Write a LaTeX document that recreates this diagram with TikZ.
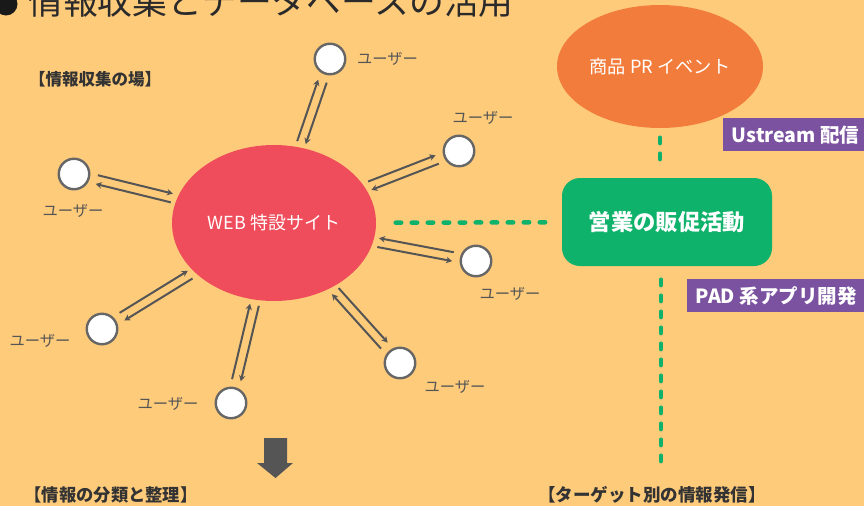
\documentclass[tikz,border=0pt]{standalone}
\usepackage{fontspec}
\setmainfont{Noto Sans CJK JP}
\usetikzlibrary{shapes.geometric,arrows.meta,calc}
\definecolor{bg}{HTML}{FECB7B}
\definecolor{webred}{HTML}{EF4D5B}
\definecolor{prorange}{HTML}{F27C3B}
\definecolor{salesgreen}{HTML}{0EB26A}
\definecolor{tagpurple}{HTML}{7B52A0}
\definecolor{linkgray}{HTML}{555555}
\definecolor{usergray}{HTML}{666666}
\definecolor{labelgray}{HTML}{555555}
\definecolor{headgray}{HTML}{333333}
\definecolor{titlegray}{HTML}{2A2A2A}
\tikzset{
  user/.style={circle,draw=usergray,line width=2.4pt,fill=white,minimum size=30.5pt,inner sep=0pt},
  ulabel/.style={text=labelgray,font=\fontsize{15.3}{18}\selectfont,inner sep=0pt},
  lnk/.style={draw=linkgray,line width=2pt},
  tiphead/.style={-{Stealth[length=6pt,width=6.5pt]}},
  dots/.style={draw=salesgreen,line width=4.5pt,line cap=round,dash pattern=on 5.5pt off 10.5pt},
  heading/.style={text=headgray,font=\fontsize{16.5}{19}\selectfont\bfseries,inner sep=0pt},
  tag/.style={fill=tagpurple,text=white,font=\fontsize{19.5}{22}\selectfont\bfseries,inner sep=0pt,anchor=north west,minimum height=33pt}
}
\newcommand\userlink[3]{%
  \path let \p1=($(web.center)-(#1.center)$), \n1={atan2(\y1,\x1)} in \pgfextra{\xdef\ulangle{\n1}};
  \draw[lnk,tiphead,shorten <=5pt,shorten >=7pt,transform canvas={shift={({\ulangle#2}:4.5pt)}}] (web) -- (#1);
  \draw[lnk,tiphead,shorten <=7pt,shorten >=5pt,transform canvas={shift={({\ulangle#3}:4.5pt)}}] (#1) -- (web);
}
\begin{document}
\begin{tikzpicture}[x=1pt,y=-1pt]
\useasboundingbox (0,0) rectangle (864,506);
\fill[bg] (0,0) rectangle (864,506);

% title
\node[circle,fill=black!90,minimum size=23pt,inner sep=0pt] (bullet) at (6,4) {};
\node[anchor=base west,inner sep=0pt,text=titlegray,font=\fontsize{34.8}{40}\selectfont] (title) at (28,14.5) {情報収集とデータベースの活用};

% headings
\node[heading] (h1) at (95,79) {【情報収集の場】};
\node[heading,font=\fontsize{17.3}{20}\selectfont\bfseries] (h2) at (111,495) {【情報の分類と整理】};
\node[heading,font=\fontsize{17.5}{20}\selectfont\bfseries] (h3) at (652,495) {【ターゲット別の情報発信】};

% central web site
\node[ellipse,fill=webred,minimum width=204pt,minimum height=156pt,inner sep=0pt,text=white,font=\fontsize{18}{21}\selectfont] (web) at (274,223) {WEB 特設サイト};

% users
\node[user] (u1) at (330,59) {};
\node[user] (u2) at (459,151) {};
\node[user] (u3) at (476,261) {};
\node[user] (u4) at (400,363) {};
\node[user] (u5) at (231,403) {};
\node[user] (u6) at (102,329) {};
\node[user] (u7) at (74,174) {};
\node[ulabel] (l1) at (387.5,59) {ユーザー};
\node[ulabel] (l2) at (483,118) {ユーザー};
\node[ulabel] (l3) at (510,294) {ユーザー};
\node[ulabel] (l4) at (455,387) {ユーザー};
\node[ulabel] (l5) at (168,404) {ユーザー};
\node[ulabel] (l6) at (40,341) {ユーザー};
\node[ulabel] (l7) at (73,211) {ユーザー};

\userlink{u1}{-90}{+90}
\userlink{u2}{-90}{+90}
\userlink{u3}{+90}{-90}
\userlink{u4}{-90}{+90}
\userlink{u5}{-90}{+90}
\userlink{u6}{-90}{+90}
\userlink{u7}{-90}{+90}

% right side
\node[ellipse,fill=prorange,minimum width=206pt,minimum height=123pt,inner sep=0pt,text=white,font=\fontsize{18.2}{21}\selectfont] (pr) at (660,66.5) {商品 PR イベント};
\node[rectangle,rounded corners=18pt,fill=salesgreen,minimum width=210pt,minimum height=88pt,inner sep=0pt,text=white,font=\fontsize{22.3}{26}\selectfont\bfseries] (sales) at (667,222) {営業の販促活動};
\coordinate (vend) at (661,473);

\draw[dots,shorten <=19.5pt,shorten >=12pt] (web) -- (sales);
\draw[dots,shorten <=9.5pt,shorten >=12pt] (pr.south) -- (pr.south |- sales.north);
\draw[dots,shorten <=13.5pt,shorten >=2.5pt] (sales.south -| vend) -- (vend);

\node[tag,minimum width=145pt] (t1) at (723,118) {Ustream 配信};
\node[tag,minimum width=178pt] (t2) at (687,279) {PAD 系アプリ開発};

% down arrow
\fill[linkgray] (264,438) -- (287,438) -- (287,463) -- (293,463) -- (275.5,478) -- (257,463) -- (264,463) -- cycle;
\end{tikzpicture}
\end{document}
